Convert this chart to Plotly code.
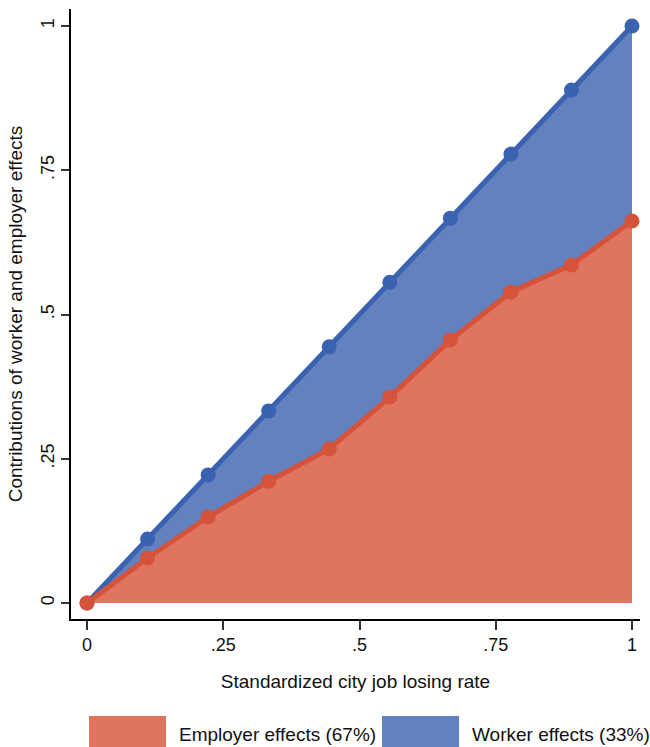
import plotly.graph_objects as go

x_vals = [0, 1/9, 2/9, 3/9, 4/9, 5/9, 6/9, 7/9, 8/9, 1]
worker_total = [0, 0.111, 0.222, 0.333, 0.444, 0.556, 0.667, 0.778, 0.889, 1.0]
employer = [0, 0.078, 0.149, 0.211, 0.267, 0.357, 0.456, 0.539, 0.586, 0.662]
x_ticks = [0, 0.25, 0.5, 0.75, 1]
x_tick_text = ["0", ".25", ".5", ".75", "1"]
y_ticks = [0, 0.25, 0.5, 0.75, 1]
y_tick_text = ["0", ".25", ".5", ".75", "1"]
legend_labels = ["Employer effects (67%)", "Worker effects (33%)"]

red_fill = "#DF745F"
red_line = "#D5533A"
blue_fill = "#6281BE"
blue_line = "#3A62B0"
FONT = "Liberation Sans, Arial, sans-serif"

fig = go.Figure()
fig.add_trace(go.Scatter(x=x_vals, y=employer, mode="none", fill="tozeroy",
                         fillcolor=red_fill, showlegend=False, hoverinfo="skip"))
fig.add_trace(go.Scatter(x=x_vals, y=worker_total, mode="none", fill="tonexty",
                         fillcolor=blue_fill, showlegend=False, hoverinfo="skip"))
fig.add_trace(go.Scatter(x=x_vals, y=worker_total, mode="lines+markers",
                         line=dict(color=blue_line, width=5),
                         marker=dict(color=blue_line, size=15), showlegend=False))
fig.add_trace(go.Scatter(x=x_vals, y=employer, mode="lines+markers",
                         line=dict(color=red_line, width=5),
                         marker=dict(color=red_line, size=15), showlegend=False))

# legend drawn as boxes + labels below the plot
leg_boxes = [(0.0316, 0.167, red_fill), (0.5466, 0.682, blue_fill)]
leg_text_x = [0.1863, 0.7012]
for (x0, x1, c), tx, lab in zip(leg_boxes, leg_text_x, legend_labels):
    fig.add_shape(type="rect", xref="paper", yref="paper", x0=x0, x1=x1,
                  y0=-0.22, y1=-0.159, fillcolor=c, line=dict(width=0), layer="above")
    fig.add_annotation(xref="paper", yref="paper", x=tx, y=-0.190, text=lab,
                       showarrow=False, xanchor="left", yanchor="middle",
                       font=dict(family=FONT, size=19, color="#111"))

fig.update_layout(
    width=650, height=747,
    margin=dict(l=71, r=10, t=9, b=128),
    paper_bgcolor="white", plot_bgcolor="white",
    font=dict(family=FONT, size=18, color="#111"),
    xaxis=dict(range=[-0.0294, 1.0147], tickvals=x_ticks, ticktext=x_tick_text,
               showgrid=False, zeroline=False, showline=True, linecolor="black",
               linewidth=1.5, ticks="outside", ticklen=9, tickwidth=1.5,
               tickcolor="#333", tickfont=dict(size=18),
               title=dict(text="Standardized city job losing rate",
                          font=dict(size=19), standoff=20)),
    yaxis=dict(range=[-0.0277, 1.0295], tickvals=y_ticks, ticktext=y_tick_text,
               showgrid=False, zeroline=False, showline=True, linecolor="black",
               linewidth=1.5, ticks="outside", ticklen=8, tickwidth=1.5,
               tickcolor="#333", tickangle=-90, tickfont=dict(size=18),
               title=dict(text="Contributions of worker and employer effects",
                          font=dict(size=19), standoff=10)),
)

fig.write_html("out.html")
